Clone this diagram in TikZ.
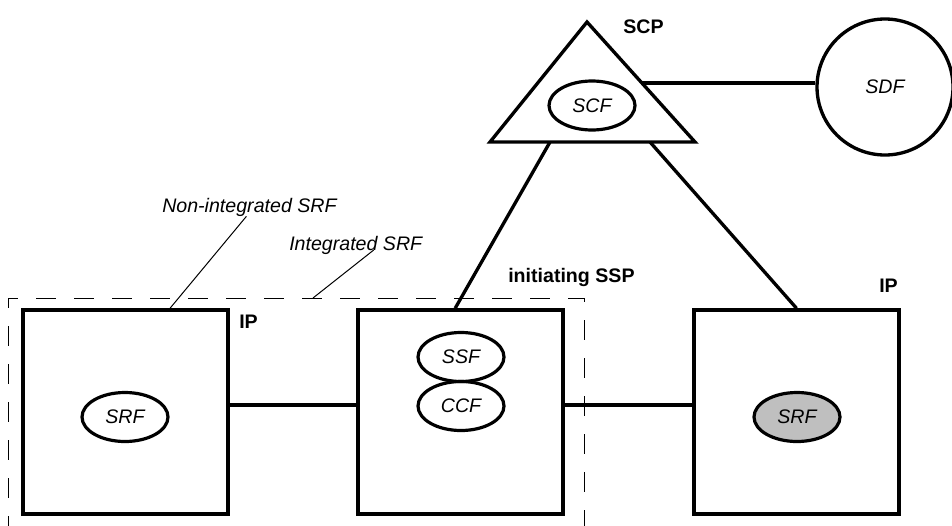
\documentclass[tikz,border=0pt]{standalone}
\usepackage{fontspec}
\setmainfont{Liberation Sans}
\usetikzlibrary{shapes.geometric}
\begin{document}
\begin{tikzpicture}[x=0.75pt,y=-0.75pt,
  font=\fontsize{14.7}{17}\selectfont,
  box/.style={draw,line width=2.6pt,rectangle,minimum width=153.75pt,minimum height=153pt,inner sep=0},
  func/.style={draw,line width=2.4pt,ellipse,minimum width=64.5pt,minimum height=36.75pt,inner sep=0,font=\fontsize{14.7}{17}\selectfont\itshape},
  link/.style={line width=2.5pt},
  leader/.style={line width=0.75pt},
  frame/.style={line width=0.75pt,dash pattern=on 15pt off 13.5pt,dash phase=7.5pt},
  lbl/.style={inner sep=0,anchor=base west,font=\fontsize{14.7}{17}\selectfont\bfseries},
  ilbl/.style={inner sep=0,anchor=base west,font=\fontsize{14.7}{17}\selectfont\itshape}]
\useasboundingbox (0,0) rectangle (952,525);
% dashed frame (integrated SRF)
\coordinate (fc) at (8,298);
\coordinate (fr) at (584,298);
\draw[frame] (fc) -- (8,530);
\draw[frame] (fc) -- (fr) -- (584,530);
% SCP triangle
\coordinate (apex) at (587,22);
\coordinate (bl) at (490,142);
\coordinate (br) at (695,142);
\draw[line width=2.5pt,line join=miter] (apex) -- (bl) -- (br) -- cycle;
\coordinate (tb1) at (550,142);
\coordinate (tb2) at (650,142);
\coordinate (tr) at (642,83);
\node[func] (scf) at (592,105.5) {SCF};
\node[lbl] (scp) at (623,33) {SCP};
% SDF
\node[draw,circle,line width=2.5pt,minimum size=102pt,inner sep=0,font=\fontsize{14.7}{17}\selectfont\itshape] (sdf) at (885,87) {SDF};
% boxes
\node[box] (lbox) at (125.5,412) {};
\node[box] (mbox) at (460.5,412) {};
\node[box] (rbox) at (796.5,412) {};
% functions
\node[func] (srfl) at (125,417) {SRF};
\node[func] (ssf) at (461,357) {SSF};
\node[func] (ccf) at (461,406) {CCF};
\node[func,fill=gray!50] (srfr) at (797,417) {SRF};
% labels
\node[lbl] (ipl) at (239,328) {IP};
\node[lbl] (ssp) at (508,282) {initiating SSP};
\node[lbl] (ipr) at (879,292) {IP};
\node[ilbl] (nonint) at (162,212) {Non-integrated SRF};
\node[ilbl] (integ) at (289,250) {Integrated SRF};
% connectors
\coordinate (hy) at (0,405);
\draw[link] (lbox.east |- hy) -- (mbox.west |- hy);
\draw[link] (mbox.east |- hy) -- (rbox.west |- hy);
\draw[link] (tb1) -- ([xshift=-4pt]mbox.north);
\draw[link] (tb2) -- (rbox.north);
\draw[link] (tr) -- (tr -| sdf.west);
% leaders
\coordinate (l2) at (313,298);
\draw[leader] ([xshift=-2.25pt]nonint.south) -- ([xshift=33.4pt]lbox.north);
\draw[leader] ([xshift=13.5pt]integ.base) -- (l2);
\end{tikzpicture}
\end{document}
